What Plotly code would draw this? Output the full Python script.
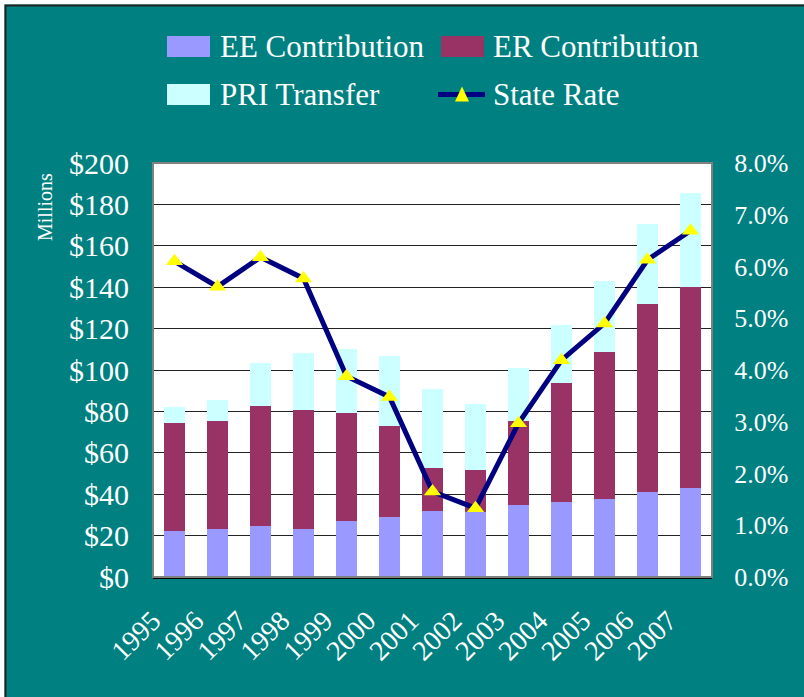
import plotly.graph_objects as go

years = ["1995", "1996", "1997", "1998", "1999", "2000", "2001",
         "2002", "2003", "2004", "2005", "2006", "2007"]
ee = [22, 23, 24.5, 23, 27, 29, 32, 31.5, 35, 36, 37.5, 41, 43]
er_top = [74.5, 75.5, 82.5, 80.5, 79, 73, 52.5, 51.5, 75.5, 93.5, 108.5, 132, 140]
pri_top = [82, 85.5, 103.5, 108, 110, 107, 91, 83.5, 101, 121.5, 143, 170.5, 185.5]
er = [t - e for t, e in zip(er_top, ee)]
pri = [t - s for t, s in zip(pri_top, er_top)]
state_rate = [0.0610, 0.0561, 0.0618, 0.0577, 0.0388, 0.0348, 0.0165,
              0.0133, 0.0297, 0.0419, 0.0490, 0.0613, 0.0669]

legend_labels = ["EE Contribution", "ER Contribution", "PRI Transfer", "State Rate"]
y_ticks = list(range(0, 201, 20))
y_ticktext = [f"${v}" for v in y_ticks]
y2_ticks = [i / 100 for i in range(0, 9)]
y2_ticktext = [f"{i}.0%" for i in range(0, 9)]

TEAL = "#008080"
EE_C = "#9999FF"
ER_C = "#993366"
PRI_C = "#CCFFFF"
LINE_C = "#000080"
MARK_C = "#FFFF00"
FONT = "Liberation Serif"

W, H = 804, 697
ML, MR, MT, MB = 153, 92, 163, 120
PW, PH = W - ML - MR, H - MT - MB


def px(x):
    return (x - ML) / PW


def py(y):
    return (H - MB - y) / PH


fig = go.Figure()
fig.add_trace(go.Bar(x=years, y=ee, name=legend_labels[0], marker_color=EE_C,
                     marker_line_width=0, showlegend=False))
fig.add_trace(go.Bar(x=years, y=er, name=legend_labels[1], marker_color=ER_C,
                     marker_line_width=0, showlegend=False))
fig.add_trace(go.Bar(x=years, y=pri, name=legend_labels[2], marker_color=PRI_C,
                     marker_line_width=0, showlegend=False))
fig.add_trace(go.Scatter(x=years, y=state_rate, name=legend_labels[3], yaxis="y2",
                         mode="lines+markers",
                         line=dict(color=LINE_C, width=5),
                         marker=dict(symbol="triangle-up", size=15, color=MARK_C,
                                     line=dict(width=0)),
                         showlegend=False))

shapes = []
# outer frame (white strip + dark border at left/top)
shapes.append(dict(type="rect", xref="paper", yref="paper",
                   x0=px(-10), x1=px(W + 10), y0=py(-10), y1=py(4.5),
                   fillcolor="white", line=dict(width=0), layer="below"))
shapes.append(dict(type="rect", xref="paper", yref="paper",
                   x0=px(-10), x1=px(4.5), y0=py(-10), y1=py(H + 10),
                   fillcolor="white", line=dict(width=0), layer="below"))
shapes.append(dict(type="rect", xref="paper", yref="paper",
                   x0=px(5.5), x1=px(W + 20), y0=py(5.5), y1=py(H + 20),
                   fillcolor="rgba(0,0,0,0)", line=dict(color="#222222", width=2),
                   layer="below"))
# plot area border
shapes.append(dict(type="rect", xref="paper", yref="paper", x0=0, x1=1, y0=0, y1=1,
                   line=dict(color="#808080", width=2), layer="above"))

# manual legend
sw = [(167, 36, EE_C), (441, 36, ER_C), (167, 84, PRI_C)]
for x0, y0, c in sw:
    shapes.append(dict(type="rect", xref="paper", yref="paper",
                       x0=px(x0), x1=px(x0 + 43), y0=py(y0 + 21), y1=py(y0),
                       fillcolor=c, line=dict(width=0)))
shapes.append(dict(type="line", xref="paper", yref="paper",
                   x0=px(438), x1=px(485), y0=py(94.5), y1=py(94.5),
                   line=dict(color=LINE_C, width=5)))
tx, ty = 462, 94.5
shapes.append(dict(type="path", xref="paper", yref="paper",
                   path=f"M {px(tx-7)},{py(ty+7)} L {px(tx+7)},{py(ty+7)} L {px(tx)},{py(ty-8)} Z",
                   fillcolor=MARK_C, line=dict(width=0)))

annotations = []
leg_pos = [(218, 46.5), (491, 46.5), (218, 94.5), (491, 94.5)]
for (x, y), t in zip(leg_pos, legend_labels):
    annotations.append(dict(text=t, xref="paper", yref="paper", x=px(x), y=py(y),
                            xanchor="left", yanchor="middle", showarrow=False,
                            font=dict(family=FONT, size=31, color="white")))
annotations.append(dict(text="Millions", xref="paper", yref="paper", x=px(45), y=py(207),
                        xanchor="center", yanchor="middle", textangle=-90, showarrow=False,
                        font=dict(family=FONT, size=20, color="white")))

fig.update_layout(
    width=W, height=H,
    margin=dict(l=ML, r=MR, t=MT, b=MB),
    paper_bgcolor=TEAL, plot_bgcolor="white",
    barmode="stack", bargap=0.5,
    showlegend=False,
    font=dict(family=FONT, color="white"),
    shapes=shapes, annotations=annotations,
    xaxis=dict(range=[-0.5, len(years) - 0.5], showgrid=False, showline=True,
               linecolor="black", linewidth=2,
               tickangle=-45, tickfont=dict(size=28, color="white"),
               ticks="outside", ticklen=0, ticklabelstandoff=14,
               ticklabelshift=-22, zeroline=False),
    yaxis=dict(range=[0, 200], tickvals=y_ticks, ticktext=y_ticktext,
               showgrid=True, gridcolor="#222222", gridwidth=1, zeroline=False,
               showline=False, tickfont=dict(size=30, color="white"),
               ticks="outside", ticklen=0, ticklabelstandoff=17),
    yaxis2=dict(range=[0, 0.08], tickvals=y2_ticks, ticktext=y2_ticktext,
                overlaying="y", side="right", showgrid=False, zeroline=False,
                showline=False, tickfont=dict(size=26, color="white"),
                ticks="outside", ticklen=0, ticklabelstandoff=16),
)

fig.write_html("out.html", config={"displayModeBar": False},
               post_script="document.body.style.margin='0';document.body.style.overflow='hidden';")
